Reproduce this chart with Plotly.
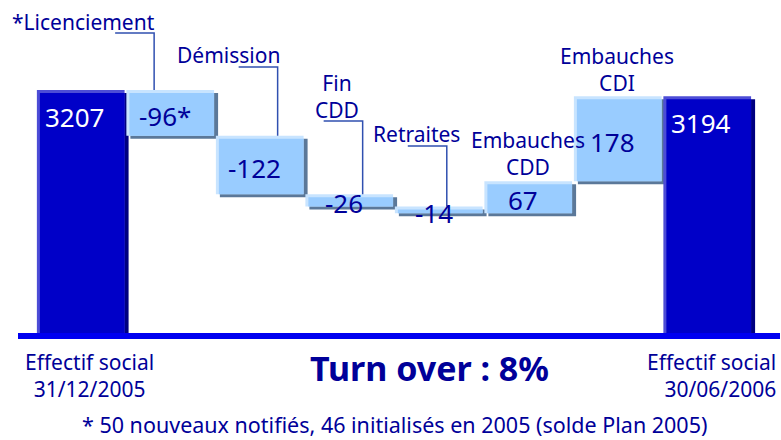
import plotly.graph_objects as go

# effectif au début et à la fin de la période
start_value = 3207
end_value = 3194

# mouvements de la période
step_labels = ["*Licenciement", "Démission", "Fin<br>CDD", "Retraites",
               "Embauches<br>CDD", "Embauches<br>CDI"]
changes = [-96, -122, -26, -14, 67, 178]
value_notes = ["*", "", "", "", "", ""]

start_label = "Effectif social<br>31/12/2005"
end_label = "Effectif social<br>30/06/2006"
turnover_text = "<b>Turn over : 8%</b>"
footnote = "* 50 nouveaux notifiés, 46 initialisés en 2005 (solde Plan 2005)"

# --- waterfall geometry from the data ---
bases, heights, kinds, texts = [0], [start_value], ["total"], [str(start_value)]
running = start_value
for c, note in zip(changes, value_notes):
    if c < 0:
        bases.append(running + c)
        heights.append(-c)
    else:
        bases.append(running)
        heights.append(c)
    kinds.append("step")
    texts.append(f"{c}{note}")
    running += c
bases.append(0)
heights.append(end_value)
kinds.append("total")
texts.append(str(end_value))
tops = [b + h for b, h in zip(bases, heights)]
x_pos = list(range(len(heights)))

# axis ranges (plot area: 762 x 333 px)
X_MIN, X_MAX = -0.701, 7.813
Y_MIN, Y_MAX = 2698.5, 3395.2
PLOT_W, PLOT_H, LEFT = 762, 333, 18
ux = (X_MAX - X_MIN) / PLOT_W   # x units per pixel
uy = (Y_MAX - Y_MIN) / PLOT_H   # y units per pixel


def px(x):
    return (x - LEFT) / PLOT_W


def py(y):
    return (PLOT_H - y) / PLOT_H


W = 0.98
NAVY = "#000099"
main_col = ["#0000C8" if k == "total" else "#99CCFF" for k in kinds]
edge_col = ["#4D4DD6" if k == "total" else "#C8E4FF" for k in kinds]
shadow_col = ["#000080" if k == "total" else "#5B7899" for k in kinds]

fig = go.Figure()
# shadow
fig.add_trace(go.Bar(x=x_pos, y=heights, base=[b - 3 * uy for b in bases],
                     width=W, offset=-W / 2 + 4 * ux,
                     marker=dict(color=shadow_col, line_width=0), hoverinfo="skip"))
# light edge (top / left)
fig.add_trace(go.Bar(x=x_pos, y=heights, base=bases, width=W, offset=-W / 2,
                     marker=dict(color=edge_col, line_width=0), hoverinfo="skip"))
# bar body
fig.add_trace(go.Bar(x=x_pos, y=[h - 3 * uy for h in heights], base=bases,
                     width=W - 3 * ux, offset=-W / 2 + 3 * ux,
                     marker=dict(color=main_col, line_width=0), hoverinfo="skip"))

annotations = []
for i, (k, t) in enumerate(zip(kinds, texts)):
    if k == "total":
        annotations.append(dict(x=i - W / 2, y=tops[i], xref="x", yref="y",
                                text=t, showarrow=False, xanchor="left", yanchor="top",
                                xshift=6, yshift=-7,
                                font=dict(family="Noto Sans", size=26, color="white")))
    else:
        annotations.append(dict(x=i, y=bases[i] + heights[i] / 2, xref="x", yref="y",
                                text=t, showarrow=False, xshift=-5, yshift=-3,
                                font=dict(family="Noto Sans", size=26, color=NAVY)))

# step labels (centre x px, middle y px)
label_pos = [(83, 21.5), (228, 55), (337, 96), (417, 134.5), (528, 153), (617, 69)]
for lab, (lx, ly) in zip(step_labels, label_pos):
    annotations.append(dict(x=px(lx), y=py(ly), xref="paper", yref="paper",
                            text=lab, showarrow=False, xanchor="center", yanchor="middle",
                            font=dict(family="Noto Sans", size=21, color=NAVY)))

annotations += [
    dict(x=px(89), y=py(375), xref="paper", yref="paper", text=start_label,
         showarrow=False, xanchor="center", yanchor="middle", align="center",
         font=dict(family="Noto Sans", size=21, color=NAVY)),
    dict(x=px(778), y=py(375), xref="paper", yref="paper", text=end_label,
         showarrow=False, xanchor="right", yanchor="middle", align="right",
         font=dict(family="Noto Sans", size=21, color=NAVY)),
    dict(x=px(429), y=py(368), xref="paper", yref="paper", text=turnover_text,
         showarrow=False, xanchor="center", yanchor="middle",
         font=dict(family="Noto Sans", size=34, color=NAVY)),
    dict(x=px(394), y=py(440), xref="paper", yref="paper", text=footnote,
         showarrow=False, xanchor="center", yanchor="bottom", borderpad=0,
         font=dict(family="Noto Sans", size=21.5, color=NAVY)),
]

# leader lines from label to bar top
leader_dx = [-0.18, 0.20, 0.15, 0.09]
leader_py = [33, 67, 121, 146]
shapes = []
for j, (dx, ly) in enumerate(zip(leader_dx, leader_py)):
    i = j + 1
    xv = i + dx
    yl = Y_MAX - ly * uy
    shapes.append(dict(type="path", xref="x", yref="y",
                       path=f"M {xv - 39 * ux},{yl} H {xv} V {tops[i]}",
                       line=dict(color="#3050B0", width=1.5)))

fig.update_layout(
    width=781, height=440,
    margin=dict(l=LEFT, r=1, t=0, b=107),
    barmode="overlay", showlegend=False,
    plot_bgcolor="white", paper_bgcolor="white",
    xaxis=dict(range=[X_MIN, X_MAX], showgrid=False, zeroline=False,
               showticklabels=False, ticks="", showline=True,
               linecolor="#0000F0", linewidth=6),
    yaxis=dict(range=[Y_MIN, Y_MAX], visible=False),
    annotations=annotations, shapes=shapes,
)

# page without the default body margin so the 781x440 figure fits the window
fig.write_html("out.html", config={"displayModeBar": False},
               post_script="document.body.style.margin='0';")
